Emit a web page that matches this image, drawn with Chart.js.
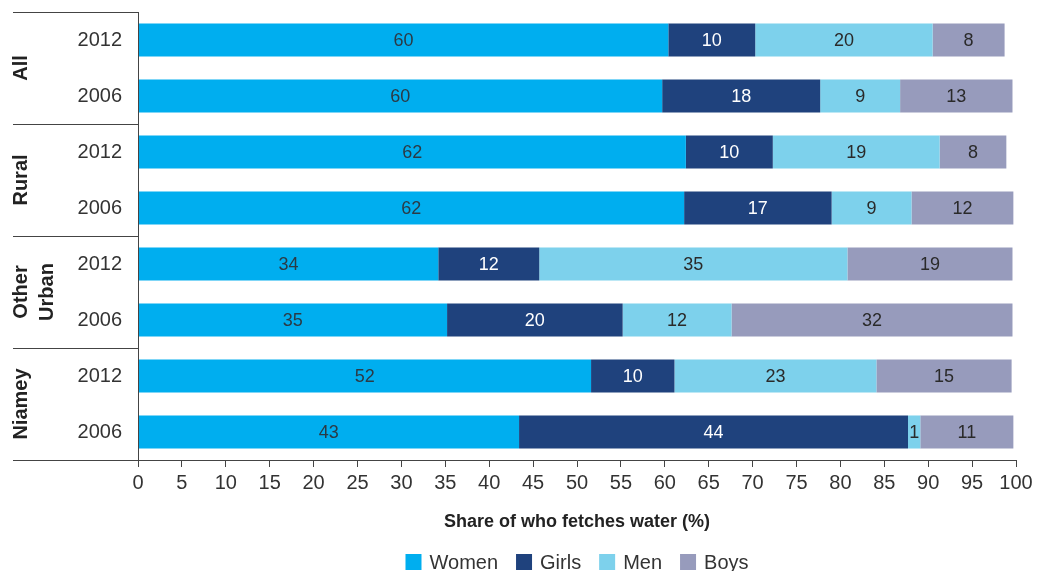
<!DOCTYPE html>
<html>
<head>
<meta charset="utf-8">
<script src="https://cdn.jsdelivr.net/npm/chart.js@4/dist/chart.umd.min.js"></script>
<style>
  html, body { margin: 0; padding: 0; background: #fff; }
  #wrap { width: 1037px; height: 571px; position: relative; }
</style>
</head>
<body>
<div id="wrap"><canvas id="waterChart"></canvas></div>
<script>
// Years (one bar each) and the groups they belong to
const years = ['2012', '2006', '2012', '2006', '2012', '2006', '2012', '2006'];
const groups = ['All', 'Rural', ['Other', 'Urban'], 'Niamey'];

// Share of who fetches water (%)
const women = [60.4, 59.7, 62.4, 62.2, 34.2, 35.2, 51.6, 43.4];
const girls = [9.9, 18.0, 9.9, 16.8, 11.5, 20.0, 9.5, 44.3];
const men = [20.2, 9.1, 19.0, 9.1, 35.1, 12.4, 23.0, 1.4];
const boys = [8.2, 12.8, 7.6, 11.6, 18.8, 32.0, 15.4, 10.6];

const xMin = 0;
const xMax = 100;
const xStep = 5;

const FONT = '"Liberation Sans", Arial, Helvetica, sans-serif';
const TEXT = '#333';
const LINE = '#444';

// value labels inside each segment
const barLabels = {
    id: 'barLabels',
    afterDatasetsDraw(chart) {
        const ctx = chart.ctx;
        ctx.save();
        ctx.font = '18px ' + FONT;
        ctx.textAlign = 'center';
        ctx.textBaseline = 'middle';
        chart.data.datasets.forEach((ds, i) => {
            const meta = chart.getDatasetMeta(i);
            meta.data.forEach((bar, j) => {
                ctx.fillStyle = ds.labelColor;
                ctx.fillText(String(Math.round(ds.data[j])), (bar.x + bar.base) / 2, bar.y + 1);
            });
        });
        ctx.restore();
    }
};

// left frame with group names, plus legend under the axis title
const frame = {
    id: 'frame',
    afterDraw(chart) {
        const { ctx, chartArea: a, scales: { y } } = chart;
        ctx.save();
        ctx.strokeStyle = LINE;
        ctx.lineWidth = 1;
        ctx.beginPath();
        ctx.moveTo(Math.round(a.left) + 0.5, a.top);
        ctx.lineTo(Math.round(a.left) + 0.5, a.bottom + 7);
        for (let g = 0; g <= groups.length; g++) {
            const yy = Math.round(a.top + (a.bottom - a.top) * g / groups.length) + 0.5;
            ctx.moveTo(13, yy);
            ctx.lineTo(a.left, yy);
        }
        ctx.stroke();

        ctx.fillStyle = '#222';
        ctx.font = 'bold 20px ' + FONT;
        ctx.textAlign = 'center';
        ctx.textBaseline = 'middle';
        groups.forEach((g, i) => {
            const lines = Array.isArray(g) ? g : [g];
            const cy = (y.getPixelForValue(i * 2) + y.getPixelForValue(i * 2 + 1)) / 2;
            lines.forEach((t, k) => {
                ctx.save();
                ctx.translate(21 + k * 26, cy);
                ctx.rotate(-Math.PI / 2);
                ctx.fillText(t, 0, 0);
                ctx.restore();
            });
        });

        // legend
        ctx.font = '20px ' + FONT;
        ctx.textAlign = 'left';
        const box = 16, gap = 8, space = 18;
        const items = chart.data.datasets.map(ds => ({ text: ds.label, color: ds.backgroundColor, w: ctx.measureText(ds.label).width }));
        const total = items.reduce((s, it) => s + box + gap + it.w, 0) + space * (items.length - 1);
        let lx = (a.left + a.right) / 2 - total / 2;
        const ly = 562;
        items.forEach(it => {
            ctx.fillStyle = it.color;
            ctx.fillRect(lx, ly - box / 2, box, box);
            ctx.fillStyle = TEXT;
            ctx.fillText(it.text, lx + box + gap, ly + 1);
            lx += box + gap + it.w + space;
        });
        ctx.restore();
    }
};

const mk = (label, data, color, labelColor) => ({
    label, data, backgroundColor: color, labelColor,
    borderWidth: 0, categoryPercentage: 1, barPercentage: 0.59
});

new Chart(document.getElementById('waterChart'), {
    type: 'bar',
    data: {
        labels: years,
        datasets: [
            mk('Women', women, '#00AEEF', '#2b3a45'),
            mk('Girls', girls, '#1F427D', '#ffffff'),
            mk('Men', men, '#7DD1EC', '#2a2a2a'),
            mk('Boys', boys, '#979BBC', '#2a2a2a')
        ]
    },
    options: {
        indexAxis: 'y',
        responsive: true,
        maintainAspectRatio: false,
        animation: false,
        layout: { padding: { top: 0, right: 21, left: 0, bottom: 0 } },
        plugins: {
            legend: { display: false },
            tooltip: { enabled: false }
        },
        scales: {
            x: {
                stacked: true,
                min: xMin,
                max: xMax,
                ticks: { stepSize: xStep, color: TEXT, font: { family: FONT, size: 20 }, padding: 4 },
                grid: { drawOnChartArea: false, drawTicks: true, tickLength: 7, color: LINE },
                border: { display: true, color: LINE },
                title: {
                    display: true,
                    text: 'Share of who fetches water (%)',
                    color: '#222',
                    font: { family: FONT, size: 18, weight: 'bold' },
                    padding: { top: 0, bottom: 38 }
                },
                afterFit(scale) { scale.height = 111; }
            },
            y: {
                stacked: true,
                ticks: { color: TEXT, font: { family: FONT, size: 20 }, padding: 0 },
                grid: { display: false, drawTicks: true, tickLength: 16 },
                border: { display: false },
                afterFit(scale) { scale.width = 138; }
            }
        }
    },
    plugins: [barLabels, frame]
});
</script>
</body>
</html>
